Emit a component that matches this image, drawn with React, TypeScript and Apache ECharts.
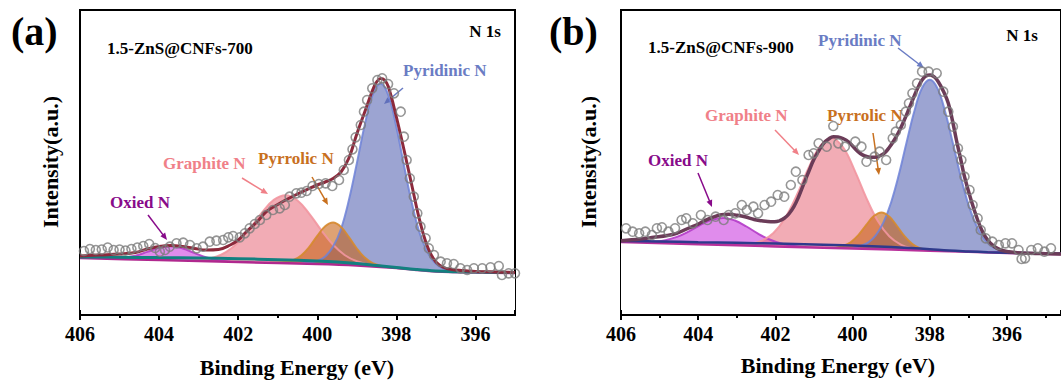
import React, { useEffect, useRef } from "react";
import * as echarts from "echarts";

// ---------- tick values ----------
const MAJOR_TICKS = [396, 398, 400, 402, 404, 406];
const MINOR_TICKS = [395, 397, 399, 401, 403, 405];

// ---------- panel (a) 1.5-ZnS@CNFs-700 ----------
const A_points = [[405.9,64],[405.75,66],[405.6,65],[405.45,65.5],[405.3,67.5],[405.15,65],[405.0,65.5],[404.85,64.5],[404.7,66],[404.55,67.5],[404.4,69],[404.25,71],[404.1,67],[403.98,63.3],[403.85,65],[403.73,68.3],[403.56,71.7],[403.39,72.3],[403.22,70],[403.05,66.7],[402.89,68.3],[402.72,73.3],[402.55,74.3],[402.38,75],[402.25,77.7],[402.13,79],[401.96,77.7],[401.83,81.7],[401.71,86.7],[401.58,91],[401.45,95],[401.29,100],[401.12,105],[400.95,106.7],[400.82,110],[400.7,118.3],[400.53,121.7],[400.4,122.3],[400.27,124],[400.12,129],[399.96,131],[399.79,131.7],[399.62,129],[399.45,135],[399.33,145],[399.2,155],[399.11,165.7],[399.03,177.7],[398.9,190],[398.82,203.3],[398.74,215],[398.61,226.7],[398.48,235],[398.36,236.7],[398.21,231],[398.06,221.7],[397.89,203.3],[397.81,178.3],[397.74,155],[397.66,136.7],[397.56,118.3],[397.47,101.7],[397.39,88.3],[397.26,76.7],[397.18,66.7],[397.05,60],[396.88,53.3],[396.72,51.7],[396.55,51],[396.38,46.7],[396.21,45],[396.04,46.7],[395.83,46.7],[395.62,47.7],[395.41,49],[395.33,40],[395.16,41.7],[395.0,41.7]];
const A_envelope = [[406,59],[405.5,60],[405.0,61],[404.6,62.5],[404.3,66],[404.0,68.5],[403.7,69.5],[403.4,68.5],[403.1,66.5],[402.8,65],[402.5,65.5],[402.2,70],[402.0,75],[401.8,83],[401.5,94],[401.3,103],[401.0,110.5],[400.8,115],[400.5,121],[400.2,126.5],[400.0,130],[399.8,133],[399.6,136.5],[399.4,143],[399.2,157],[399.0,181],[398.8,203],[398.6,225],[398.5,233],[398.4,236.5],[398.3,235],[398.2,228],[398.0,198],[397.8,164],[397.6,128],[397.4,93],[397.2,67],[397.0,53],[396.8,47.5],[396.6,45.5],[396.3,44.5],[396.0,43.5],[395.5,43],[395.0,42.5]];
const A_background = [[406,58],[405,57.8],[404,57.4],[403,57],[402,56.3],[401,55.3],[400,54],[399.5,53],[399,51.5],[398.5,49.5],[398,47.5],[397.5,45.5],[397,44],[396.5,43.3],[396,43],[395,42.5]];
const A_base = [[406,57],[404,55],[402,53],[400,51],[399,49.5],[398,47],[397.5,45],[397,43.5],[396,42.5],[395,42]];
const A_pyridinic = [[400.4,51.4],[400.0,54],[399.8,58.4],[399.6,68.4],[399.4,86],[399.2,115],[399.0,151.5],[398.8,190],[398.6,220],[398.4,231.4],[398.2,219.4],[398.0,188],[397.8,148],[397.6,110.4],[397.4,80.6],[397.2,62],[397.0,51.2],[396.8,46.3],[396.4,42.9]];
const A_pyrrolic = [[401.2,52.2],[400.8,52.9],[400.6,55],[400.4,59.8],[400.2,68.2],[400.0,79.1],[399.8,88.7],[399.6,92.4],[399.4,88.1],[399.2,77.9],[399.0,66.5],[398.8,57.4],[398.6,51.9],[398.4,49.2],[398.2,47.5]];
const A_graphite = [[403.2,54.2],[402.9,55.5],[402.6,57.8],[402.3,63.2],[402.0,72.8],[401.7,86.7],[401.4,102.4],[401.1,115.1],[400.8,119.8],[400.5,114.5],[400.2,101.2],[399.9,84.9],[399.6,70.2],[399.3,59.8],[399.0,53.7],[398.7,50.4],[398.4,48]];
const A_oxied = [[405.2,56.2],[404.9,57.2],[404.6,59.3],[404.3,63.1],[404.0,67.1],[403.7,68.7],[403.4,66.5],[403.1,61.9],[402.8,57.5],[402.5,54.8],[402.2,53.2]];

// ---------- panel (b) 1.5-ZnS@CNFs-900 ----------
const B_points = [[405.87,86.7],[405.7,83.3],[405.53,81.7],[405.37,83.3],[405.2,80],[405.07,86.7],[404.94,87.7],[404.77,83.3],[404.6,86.7],[404.43,95],[404.31,96.7],[404.14,91.7],[403.93,100],[403.76,95],[403.55,98.3],[403.34,95],[403.21,100],[403.04,101.7],[402.87,110],[402.74,105],[402.57,108.3],[402.45,101.7],[402.28,110],[402.11,113.3],[401.94,120],[401.77,118.3],[401.6,130],[401.47,143.3],[401.3,135],[401.14,160],[401.01,161.7],[400.88,171.7],[400.67,168.3],[400.5,189],[400.37,171.7],[400.2,168.3],[399.93,173.3],[399.77,168.3],[399.64,153.3],[399.43,158.3],[399.3,163.3],[399.13,155],[398.96,176.7],[398.88,183.3],[398.75,190],[398.62,203.3],[398.54,211.7],[398.45,221.7],[398.33,231.7],[398.2,243.3],[398.03,243.3],[397.82,241.7],[397.65,223.3],[397.52,203.3],[397.4,188.3],[397.27,166.7],[397.18,155],[397.1,138.3],[396.97,125],[396.89,110],[396.76,96.7],[396.68,85],[396.55,76.7],[396.38,73.3],[396.21,70],[396.04,71.7],[395.87,71.7],[395.7,65],[395.62,56],[395.53,56.7],[395.37,65],[395.2,66.7],[395.03,63.3],[394.86,66.7]];
const B_envelope = [[406,74.3],[405.5,76],[405.15,77.7],[404.8,79.5],[404.56,81.7],[404.3,86],[404.05,90],[403.85,94],[403.63,97.7],[403.4,100.2],[403.21,100.7],[403.0,99.8],[402.79,98.3],[402.55,95.5],[402.36,94.3],[402.2,93.5],[402.02,93.3],[401.9,94.2],[401.77,96.7],[401.65,101],[401.52,108.3],[401.4,118],[401.26,131.7],[401.13,144],[401.01,155],[400.88,164],[400.75,171.7],[400.62,176],[400.5,178.3],[400.38,178],[400.25,176.5],[400.1,173],[399.93,166],[399.8,161.5],[399.68,159],[399.55,157.8],[399.42,157.7],[399.3,159],[399.17,162],[399.05,167.5],[398.92,175],[398.79,184],[398.66,195],[398.53,207],[398.41,218.3],[398.3,228],[398.2,235],[398.1,239],[397.99,240],[397.88,238],[397.78,233.3],[397.65,224],[397.52,211.7],[397.41,194],[397.31,175],[397.2,156],[397.1,138.3],[396.93,115],[396.76,95],[396.63,83],[396.5,75],[396.33,68.5],[396.16,65],[395.95,63.3],[395.73,62.3],[395.4,61.7],[395.0,61.3],[394.6,61]];
const B_background = [[406,74],[405,73.5],[404,72.8],[403,72.2],[402,71.5],[401,70.6],[400,69.5],[399,68],[398.5,67],[398,65.8],[397.5,64.5],[397,63.6],[396.5,62.8],[396,62.3],[395,61.6],[394.6,61.4]];
const B_base = [[406,73],[404,70.8],[402,68.6],[400,66.5],[398,64.3],[396,62.1],[394.6,60.7]];
const B_pyridinic = [[400.0,66.5],[399.8,69],[399.6,72.4],[399.4,79.7],[399.2,92.6],[399.0,112.8],[398.8,140.4],[398.6,172.7],[398.4,203.8],[398.2,227],[398.0,235.3],[397.8,226.6],[397.6,202.9],[397.4,171.4],[397.2,138.7],[397.0,110.6],[396.8,90],[396.6,76.7],[396.4,68.9],[396.2,65.1],[396.0,62.1]];
const B_pyrrolic = [[400.45,67],[400.25,69],[400.05,72.8],[399.85,79.9],[399.65,89.8],[399.45,98.9],[399.25,102.6],[399.05,98.5],[398.85,89],[398.65,78.6],[398.45,71],[398.25,66.8],[398.05,64.4]];
const B_graphite = [[402.95,69.7],[402.65,71.15],[402.35,74.3],[402.05,82],[401.75,96.9],[401.45,119.5],[401.15,146.2],[400.85,168.5],[400.55,177.1],[400.25,167.8],[399.95,144.9],[399.65,117.6],[399.35,94.25],[399.05,78.7],[398.75,70.4],[398.45,66.6],[398.15,64.4]];
const B_oxied = [[405.45,72.4],[405.15,73.3],[404.85,74.8],[404.55,78.1],[404.25,83.4],[403.95,89.8],[403.65,95.1],[403.35,97.1],[403.05,94.5],[402.75,88.5],[402.45,81.4],[402.15,75.5],[401.85,71.5],[401.55,69.35],[401.25,67.8]];

const FONT = "Liberation Serif";
const C_PYRI = "#6a7cc4";
const C_GRAPH = "#f08088";
const C_PYRR = "#c8701e";
const C_OXI = "#880a8a";

function arrow(x1: number, y1: number, x2: number, y2: number, color: string) {
  const a = Math.atan2(y2 - y1, x2 - x1);
  const L = 7, W = 3;
  const c = Math.cos(a), s = Math.sin(a);
  return [
    { type: "line", silent: true, shape: { x1, y1, x2: x2 - L * 0.7 * c, y2: y2 - L * 0.7 * s }, style: { stroke: color, lineWidth: 1.5 } },
    {
      type: "polygon", silent: true,
      shape: { points: [[x2, y2], [x2 - L * c + W * s, y2 - L * s - W * c], [x2 - L * c - W * s, y2 - L * s + W * c]] },
      style: { fill: color },
    },
  ];
}

function txt(text: string, x: number, y: number, size: number, color: string, align = "left", rotation = 0) {
  return {
    type: "text", x, y, rotation, silent: true,
    style: { text, fill: color, fontFamily: FONT, fontSize: size, fontWeight: "bold", align, verticalAlign: "middle" },
  };
}

export default function App() {
  const ref = useRef<HTMLDivElement>(null);
  useEffect(() => {
    if (!ref.current) return;
    const chart = echarts.init(ref.current, null, { renderer: "svg" });

    const mkX = (grid: number, min: number) => [
      {
        type: "value", gridIndex: grid, min, max: 406, inverse: true, position: "bottom",
        axisLine: { show: true, onZero: false, lineStyle: { color: "#000", width: 2 } },
        axisTick: { show: true, inside: false, length: 5, customValues: MAJOR_TICKS, lineStyle: { color: "#000", width: 2 } },
        axisLabel: { show: true, customValues: MAJOR_TICKS, margin: 9, color: "#000", fontSize: 20, fontWeight: "bold", fontFamily: FONT },
        splitLine: { show: false },
      },
      {
        type: "value", gridIndex: grid, min, max: 406, inverse: true, position: "bottom",
        axisLine: { show: false, onZero: false },
        axisTick: { show: true, inside: false, length: 3, customValues: MINOR_TICKS.filter((v) => v > min), lineStyle: { color: "#000", width: 2 } },
        axisLabel: { show: false },
        splitLine: { show: false },
      },
    ];
    const mkY = (grid: number) => ({
      type: "value", gridIndex: grid, min: 0, max: 305,
      axisLine: { show: true, lineStyle: { color: "#000", width: 2 } },
      axisTick: { show: false }, axisLabel: { show: false }, splitLine: { show: false },
    });

    const area = (data: number[][], xi: number, yi: number, fill: string, line: string) => ({
      type: "line", data, xAxisIndex: xi, yAxisIndex: yi, smooth: 0.4, symbol: "none", z: 2,
      lineStyle: { color: line, width: 2 }, areaStyle: { color: fill, opacity: 1, origin: 10 },
    });
    const cover = (data: number[][], xi: number, yi: number, color: string) => ({
      type: "line", data, xAxisIndex: xi, yAxisIndex: yi, smooth: 0.3, symbol: "none", z: 3,
      lineStyle: { color, width: 2.5 }, areaStyle: { color: "#ffffff", opacity: 1, origin: 5 },
    });
    const line = (data: number[][], xi: number, yi: number, color: string, width: number) => ({
      type: "line", data, xAxisIndex: xi, yAxisIndex: yi, smooth: 0.4, symbol: "none", z: 4,
      lineStyle: { color, width },
    });
    const pts = (data: number[][], xi: number, yi: number) => ({
      type: "scatter", data, xAxisIndex: xi, yAxisIndex: yi, symbol: "circle", symbolSize: 9, z: 5,
      itemStyle: { color: "rgba(255,255,255,0)", borderColor: "#7c7c7c", borderWidth: 1.6 },
    });

    const fills = {
      pyri: "rgba(90,104,180,0.6)", graph: "rgba(232,104,120,0.55)",
      pyrr: "rgba(200,100,24,0.6)", oxi: "rgba(204,64,224,0.6)",
    };
    const lines = {
      pyri: "rgba(110,130,215,0.85)", graph: "rgba(242,150,160,0.9)",
      pyrr: "rgba(214,137,46,0.9)", oxi: "rgba(180,60,200,0.9)",
    };

    const series = [
      area(A_oxied, 0, 0, fills.oxi, lines.oxi),
      area(A_graphite, 0, 0, fills.graph, lines.graph),
      area(A_pyridinic, 0, 0, fills.pyri, lines.pyri),
      area(A_pyrrolic, 0, 0, fills.pyrr, lines.pyrr),
      cover(A_base, 0, 0, "#b0288e"),
      line(A_background, 0, 0, "#138080", 3),
      line(A_envelope, 0, 0, "#8c2a3c", 3),
      pts(A_points, 0, 0),

      area(B_oxied, 2, 1, fills.oxi, lines.oxi),
      area(B_graphite, 2, 1, fills.graph, lines.graph),
      area(B_pyridinic, 2, 1, fills.pyri, lines.pyri),
      area(B_pyrrolic, 2, 1, fills.pyrr, lines.pyrr),
      cover(B_base, 2, 1, "#b8309a"),
      line(B_background, 2, 1, "#2e3a8c", 2.5),
      line(B_envelope, 2, 1, "#6b3c58", 3.5),
      pts(B_points, 2, 1),
    ];

    const graphic: any[] = [
      txt("(a)", 11, 31, 40, "#000"),
      txt("1.5-ZnS@CNFs-700", 107, 48, 17, "#000"),
      txt("N 1s", 501, 31, 17, "#000", "right"),
      txt("Pyridinic N", 403, 70, 17, C_PYRI),
      txt("Graphite N", 163, 163, 17, C_GRAPH),
      txt("Pyrrolic N", 258, 158, 17, C_PYRR),
      txt("Oxied N", 110, 202, 17, C_OXI),
      txt("Intensity(a.u.)", 50, 162, 22, "#000", "center", Math.PI / 2),
      txt("Binding Energy (eV)", 297, 367, 22, "#000", "center"),
      ...arrow(403, 88, 384, 104, C_PYRI),
      ...arrow(242, 178, 268, 194, C_GRAPH),
      ...arrow(312, 177, 328, 205, C_PYRR),
      ...arrow(148, 215, 167, 240, C_OXI),

      txt("(b)", 549, 31, 40, "#000"),
      txt("1.5-ZnS@CNFs-900", 648, 47, 17, "#000"),
      txt("N 1s", 1038, 35, 17, "#000", "right"),
      txt("Pyridinic N", 818, 40, 17, C_PYRI),
      txt("Graphite N", 705, 115, 17, C_GRAPH),
      txt("Pyrrolic N", 827, 115, 17, C_PYRR),
      txt("Oxied N", 648, 160, 17, C_OXI),
      txt("Intensity(a.u.)", 588, 162, 22, "#000", "center", Math.PI / 2),
      txt("Binding Energy (eV)", 838, 365, 22, "#000", "center"),
      ...arrow(898, 48, 924, 68, C_PYRI),
      ...arrow(775, 130, 799, 155, C_GRAPH),
      ...arrow(873, 133, 879, 175, C_PYRR),
      ...arrow(698, 173, 712, 207, C_OXI),
    ];

    chart.setOption({
      animation: false,
      backgroundColor: "#ffffff",
      textStyle: { fontFamily: FONT },
      grid: [
        { left: 80, top: 10, width: 435, height: 305, show: true, borderColor: "#000", borderWidth: 2, backgroundColor: "transparent" },
        { left: 621, top: 10, width: 449, height: 305, show: true, borderColor: "#000", borderWidth: 2, backgroundColor: "transparent" },
      ],
      xAxis: [...mkX(0, 395), ...mkX(1, 394.6)],
      yAxis: [mkY(0), mkY(1)],
      series,
      graphic,
    });
    return () => chart.dispose();
  }, []);
  return <div ref={ref} style={{ position: "absolute", left: 0, top: 0, width: 1061, height: 385 }} />;
}
